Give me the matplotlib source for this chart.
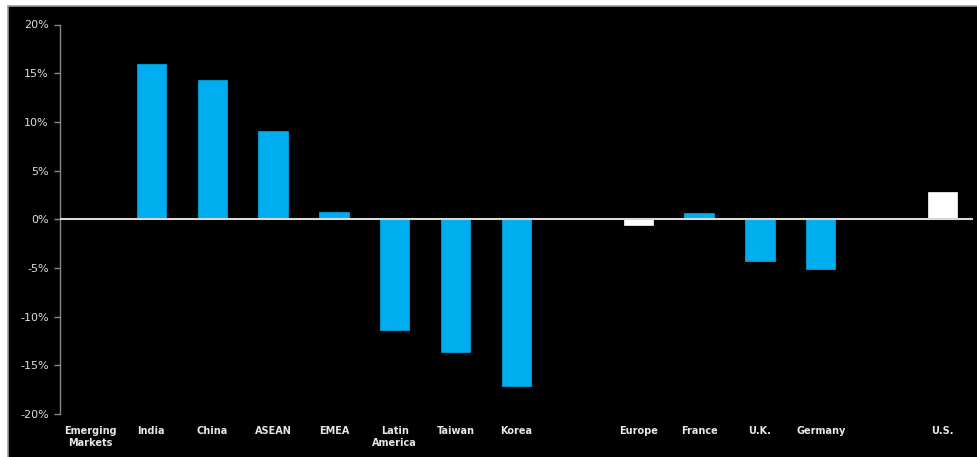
import matplotlib
matplotlib.use("Agg")
import matplotlib.pyplot as plt
from matplotlib.patches import Rectangle

# ---- Data ----
categories = ["Emerging\nMarkets", "India", "China", "ASEAN", "EMEA", "Latin\nAmerica",
              "Taiwan", "Korea", "", "Europe", "France", "U.K.", "Germany", "", "U.S."]
values = [None, 15.9, 14.3, 9.1, 0.7, -11.4, -13.6, -17.1, None,
          -0.6, 0.6, -4.3, -5.1, None, 2.8]
bar_colors = ["#00AEEF"] * 9 + ["white"] + ["#00AEEF"] * 4 + ["white"]
yticks = [-20, -15, -10, -5, 0, 5, 10, 15, 20]
ytick_labels = [f"{t}%" for t in yticks]

fig = plt.figure(figsize=(9.77, 4.57), dpi=100)
fig.patch.set_facecolor("white")

# black panel with thin gray frame on top/left, running off the right/bottom edges
fig.patches.append(Rectangle((8 / 977, -0.1), 1.1, 1.1 - 6 / 457, transform=fig.transFigure,
                             facecolor="black", edgecolor="#9a9a9a", linewidth=1.2, zorder=-10))

ax = fig.add_axes([60 / 977, 43 / 457, 913 / 977, 389.5 / 457])
ax.set_facecolor("black")
ax.set_zorder(5)

xs = [i for i, v in enumerate(values) if v is not None]
hs = [v for v in values if v is not None]
cs = [bar_colors[i] for i in xs]
ax.bar(xs, hs, width=0.48, color=cs, edgecolor=cs, linewidth=0.5, zorder=2)

ax.axhline(0, color="#d8d8d8", linewidth=1.5, zorder=3)

ax.set_xlim(-0.5, 14.5)
ax.set_ylim(-20, 20)

ax.set_yticks(yticks)
ax.set_yticklabels(ytick_labels, fontsize=8, color="#dddddd")
ax.tick_params(axis="y", direction="out", length=4, width=1, color="#888888", pad=4)

ax.set_xticks(range(len(categories)))
ax.set_xticklabels(categories, fontsize=7, fontweight="bold", color="#e6e6e6",
                   linespacing=1.25, va="top")
ax.tick_params(axis="x", length=0, pad=9)

for s in ["top", "right", "bottom"]:
    ax.spines[s].set_visible(False)
ax.spines["left"].set_color("#888888")
ax.spines["left"].set_linewidth(1)

plt.savefig("out.png", dpi=100, facecolor=fig.get_facecolor())
